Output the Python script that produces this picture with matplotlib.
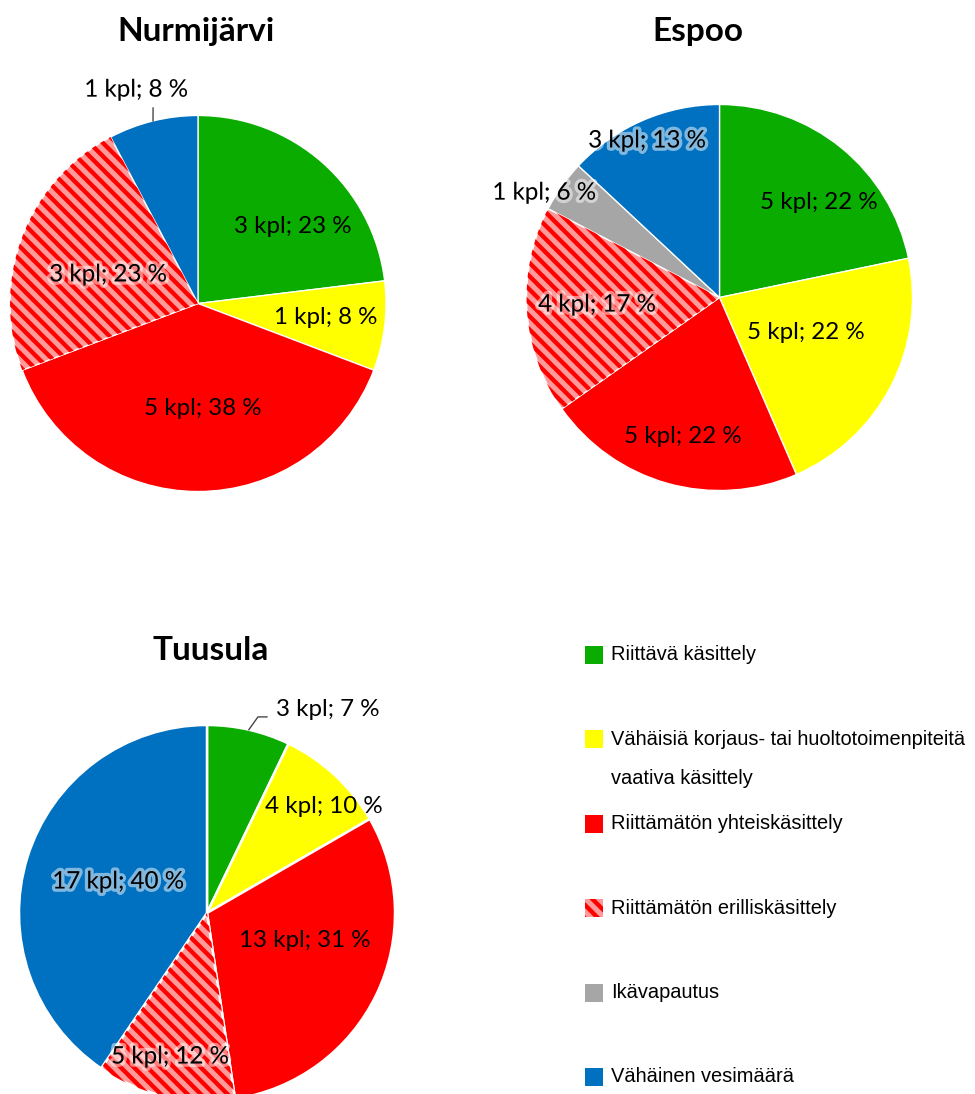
import matplotlib
matplotlib.use("Agg")
import matplotlib.pyplot as plt
import matplotlib.patheffects as pe
from matplotlib.patches import Wedge, Rectangle
import numpy as np

# --- data ---------------------------------------------------------------
categories = [
    "Riittävä käsittely",
    "Vähäisiä korjaus- tai huoltotoimenpiteitä\nvaativa käsittely",
    "Riittämätön yhteiskäsittely",
    "Riittämätön erilliskäsittely",
    "Ikävapautus",
    "Vähäinen vesimäärä",
]
nurmijarvi_counts = [3, 1, 5, 3, 0, 1]
nurmijarvi_pct = [23, 8, 38, 23, 0, 8]
espoo_counts = [5, 5, 5, 4, 1, 3]
espoo_pct = [22, 22, 22, 17, 6, 13]
tuusula_counts = [3, 4, 13, 5, 0, 17]
tuusula_pct = [7, 10, 31, 12, 0, 40]

colors = ["#0AAC00", "#FFFF00", "#FF0000", "#FF9A9A", "#A6A6A6", "#0070C0"]
HATCHED = 3
GLOW = {3, 4, 5}

W, H, DPI = 975, 1094, 120
plt.rcParams["hatch.linewidth"] = 2.6
LABEL_FONT = "Lato"

fig = plt.figure(figsize=(W / DPI, H / DPI), dpi=DPI, facecolor="white")


def pie_axes(cx, cy, r, pad=1.3):
    """axes whose data unit equals the pie radius, centred at pixel (cx, cy)"""
    s = pad * r
    ax = fig.add_axes([(cx - s) / W, (H - cy - s) / H, 2 * s / W, 2 * s / H])
    return ax, pad


def draw_pie(cx, cy, r, counts, pct, label_pos, edge_lw, leader=None):
    ax, pad = pie_axes(cx, cy, r)
    idx = [i for i, c in enumerate(counts) if c > 0]
    wedges, _ = ax.pie(
        [counts[i] for i in idx],
        colors=[colors[i] for i in idx],
        startangle=90,
        counterclock=False,
        radius=1,
        wedgeprops=dict(edgecolor="white", linewidth=edge_lw),
    )
    ax.set_xlim(-pad, pad)
    ax.set_ylim(-pad, pad)
    ax.axis("off")
    for w, i in zip(wedges, idx):
        if i == HATCHED:
            ax.add_patch(Wedge((0, 0), 1, w.theta1, w.theta2, facecolor="none",
                               edgecolor="#FF0000", linewidth=0, hatch="\\\\\\"))
        x, y = label_pos[i]
        t = ax.text(x, y, f"{counts[i]} kpl; {pct[i]} %", ha="center", va="center",
                    fontsize=14.5, family=LABEL_FONT, color="black", zorder=5)
        if i in GLOW:
            t.set_path_effects([pe.withStroke(linewidth=4, foreground="white", alpha=0.5)])
    if leader is not None:
        i, pts = leader
        w = wedges[idx.index(i)]
        mid = np.deg2rad((w.theta1 + w.theta2) / 2)
        xs = [np.cos(mid)] + [p[0] for p in pts]
        ys = [np.sin(mid)] + [p[1] for p in pts]
        ax.plot(xs, ys, color="#404040", lw=0.8, zorder=4)
    return ax


# label positions in pie-radius units
draw_pie(198, 303.5, 188, nurmijarvi_counts, nurmijarvi_pct,
         {0: (0.505, 0.412), 1: (0.681, -0.077), 2: (0.027, -0.556),
          3: (-0.479, 0.152), 5: (-0.330, 1.135)},
         0.8, leader=(5, [(-0.239, 1.04)]))
draw_pie(719.5, 297.5, 193, espoo_counts, espoo_pct,
         {0: (0.516, 0.490), 1: (0.448, -0.179), 2: (-0.189, -0.718),
          3: (-0.635, -0.039), 4: (-0.909, 0.541), 5: (-0.376, 0.811)},
         0.8)
draw_pie(207, 913, 188, tuusula_counts, tuusula_pct,
         {0: (0.644, 1.085), 1: (0.622, 0.569), 2: (0.521, -0.144),
          3: (-0.197, -0.766), 5: (-0.473, 0.165)},
         1.5, leader=(0, [(0.271, 1.043), (0.319, 1.043)]))

# overlay in pixel coordinates for titles and legend
ov = fig.add_axes([0, 0, 1, 1])
ov.set_xlim(0, W)
ov.set_ylim(H, 0)
ov.axis("off")

for name, x, y in [("Nurmijärvi", 196, 32), ("Espoo", 698, 32), ("Tuusula", 211, 650)]:
    ov.text(x, y, name, ha="center", va="center", fontsize=20,
            fontweight="bold", family=LABEL_FONT)

leg_top, leg_step = 655, 84.4
for k, (name, col) in enumerate(zip(categories, colors)):
    y = leg_top + k * leg_step
    ov.add_patch(Rectangle((585, y - 9), 18, 18, facecolor=col, edgecolor="none"))
    if k == HATCHED:
        ov.add_patch(Rectangle((585, y - 9), 18, 18, facecolor="none",
                               edgecolor="#FF0000", linewidth=0, hatch="\\\\\\"))
    for j, line in enumerate(name.split("\n")):
        ov.text(611, y + j * 39, line, ha="left", va="center",
                fontsize=12, family="Liberation Sans")

fig.savefig("out.png", dpi=DPI, facecolor="white")
